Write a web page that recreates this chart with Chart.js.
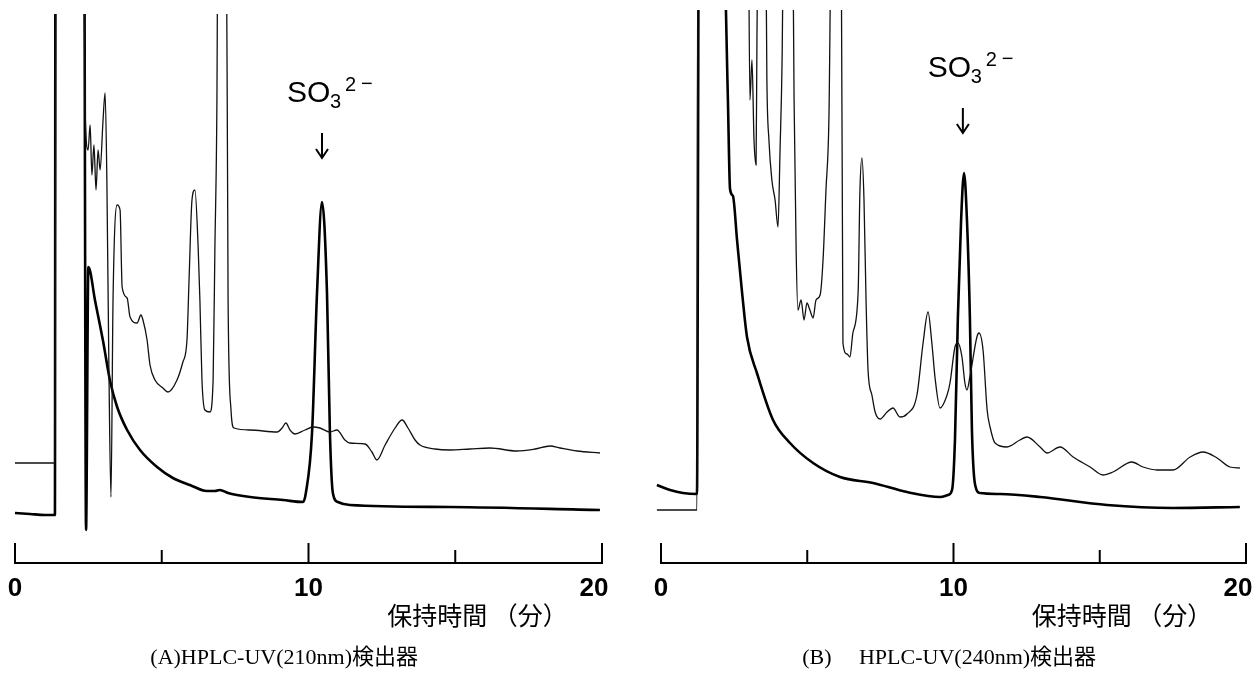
<!DOCTYPE html>
<html><head><meta charset="utf-8">
<script src="https://cdn.jsdelivr.net/npm/chart.js@4"></script>
<style>
html,body{margin:0;padding:0;background:#fff;}
#wrap{position:relative;width:1258px;height:673px;overflow:hidden;}
.pane{position:absolute;top:0;width:629px;height:673px;}
</style></head><body>
<div id="wrap">
<div class="pane" style="left:0"><canvas id="cA" width="629" height="673"></canvas></div>
<div class="pane" style="left:629px"><canvas id="cB" width="629" height="673"></canvas></div>
</div>
<script>
// ---- axis ticks / labels ----
const majorTicks = [0, 10, 20];
const minorTicks = [5, 15];
const tickLabels = ['0', '10', '20'];
const xTitle = '保持時間 （分）';
const captionA = '(A)HPLC-UV(210nm)検出器';
const captionB = '(B)\u3000 HPLC-UV(240nm)検出器';

// ---- Panel A (210 nm): retention time (min) / signal (arb.) ----
const A_solid_t = [0,0.51,1.02,1.36,1.38,2.35,2.42,2.50,2.73,3.00,3.24,3.48,3.82,4.26,4.84,5.38,5.96,6.54,6.81,6.98,7.26,7.56,8.01,9.13,9.81,9.91,10.12,10.29,10.46,10.63,10.73,10.83,11.0,11.41,14.82,19.93];
const A_solid_v = [50,49,48,48,700,700,33,296,262,222,182,156,133,113,96,85,78,72,72,73,70,68,66,63,61,70,130,270,361,270,130,70,61,58,56,53];
const A_thin_t = [0,1.36,1.40,2.32,2.39,2.49,2.56,2.62,2.69,2.76,2.83,2.90,3.00,3.07,3.13,3.20,3.27,3.34,3.48,3.58,3.65,3.82,3.92,4.16,4.29,4.36,4.50,4.60,4.77,5.04,5.21,5.52,5.72,5.86,5.93,6.03,6.13,6.24,6.30,6.37,6.47,6.64,6.75,6.81,6.88,6.92,7.19,7.26,7.36,7.46,8.01,8.93,9.10,9.23,9.37,9.54,9.88,10.15,10.39,10.73,10.97,11.24,11.41,11.93,12.16,12.33,12.61,12.95,13.19,13.39,13.63,13.80,14.31,14.82,15.50,16.18,17.10,17.72,18.23,18.57,19.15,19.93];
const A_thin_v = [100,100,700,700,453,413,438,388,418,373,413,393,443,470,383,193,66,263,358,353,276,265,246,240,248,243,223,198,183,175,171,183,201,223,283,363,373,316,263,183,153,151,183,313,463,700,700,263,153,135,133,131,135,140,133,129,133,136,135,131,133,123,120,119,111,103,118,135,143,135,123,118,114,113,114,115,112,114,117,115,112,110];

// ---- Panel B (240 nm) ----
const B_solid_t = [-0.14,0.31,0.75,1.23,1.30,2.15,2.22,2.29,2.36,2.46,2.60,2.77,2.94,3.28,3.83,4.41,5.20,6.12,7.25,8.41,9.54,9.81,9.95,10.05,10.15,10.26,10.36,10.46,10.56,10.63,10.74,10.91,11.59,12.96,15.25,17.50,19.79];
const B_solid_v = [78,73,70,69,700,700,553,460,374,367,323,271,226,190,143,120,100,86,80,71,66,68,73,123,246,343,390,343,246,133,78,70,69,66,58,55,56];
const B_thin_t = [-0.14,1.23,1.26,2.97,3.04,3.11,3.18,3.25,3.28,3.35,3.56,3.62,3.69,3.79,3.90,4.00,4.07,4.14,4.21,4.48,4.55,4.62,4.68,4.79,4.89,4.99,5.09,5.20,5.30,5.44,5.54,5.64,5.74,5.85,6.15,6.22,6.36,6.46,6.56,6.74,6.80,6.87,6.94,7.01,7.08,7.21,7.32,7.49,7.73,7.93,8.17,8.41,8.75,8.96,9.13,9.26,9.37,9.54,9.78,9.88,10.05,10.15,10.29,10.39,10.46,10.56,10.80,10.87,11.01,11.15,11.25,11.42,11.83,12.27,12.51,12.96,13.20,13.64,14.09,14.67,15.11,15.45,16.10,16.48,16.96,17.50,18.09,18.53,19.01,19.45,19.79];
const B_thin_v = [53,53,700,700,463,503,423,398,523,700,700,483,423,383,363,336,413,503,700,700,463,313,253,263,243,260,253,245,263,268,303,373,443,700,700,220,209,206,230,271,371,405,363,263,192,168,151,144,151,155,146,149,168,220,251,220,185,155,168,180,216,220,206,180,173,186,226,230,213,153,136,120,116,123,126,116,110,116,106,96,88,91,101,96,93,93,106,111,105,96,95];

// ---- SO3^2- peak marker (time, signal at arrow tip) ----
const A_marker = [10.46, 405];
const B_marker = [10.32, 430];

function pts(t, v) { return t.map((x, i) => ({ x: x, y: v[i] })); }

const chromPlugin = {
  id: 'chrom',
  afterDraw(chart) {
    const o = chart.options.plugins.chrom;
    const ctx = chart.ctx, xs = chart.scales.x, ys = chart.scales.y;
    const y0 = ys.getPixelForValue(0);
    ctx.save();
    ctx.strokeStyle = '#000'; ctx.fillStyle = '#000'; ctx.lineWidth = 2;
    ctx.beginPath();
    ctx.moveTo(xs.getPixelForValue(0) - 1, y0);
    ctx.lineTo(xs.getPixelForValue(20) + 1, y0);
    ctx.stroke();
    majorTicks.forEach(t => { const x = xs.getPixelForValue(t); ctx.beginPath(); ctx.moveTo(x, y0); ctx.lineTo(x, y0 - 20); ctx.stroke(); });
    minorTicks.forEach(t => { const x = xs.getPixelForValue(t); ctx.beginPath(); ctx.moveTo(x, y0); ctx.lineTo(x, y0 - 13); ctx.stroke(); });
    ctx.font = 'bold 26px "Liberation Sans", Arial, sans-serif';
    ctx.textAlign = 'center'; ctx.textBaseline = 'middle';
    majorTicks.forEach((t, i) => {
      let x = xs.getPixelForValue(t);
      const w = ctx.measureText(tickLabels[i]).width;
      if (i === majorTicks.length - 1) x -= 8;
      x = Math.min(x, chart.width - w / 2 - 5);
      ctx.fillText(tickLabels[i], x, y0 + 26);
    });
    ctx.font = '25px "Noto Sans CJK JP", sans-serif';
    ctx.fillText(xTitle, xs.getPixelForValue(15.76), y0 + 52);
    ctx.font = '22px "Liberation Serif", "Noto Sans CJK JP", serif';
    ctx.fillText(o.caption, xs.getPixelForValue(o.captionX), y0 + 95);
    // marker
    const mx = xs.getPixelForValue(o.marker[0]);
    const my = ys.getPixelForValue(o.marker[1]);
    ctx.lineWidth = 2;
    ctx.beginPath(); ctx.moveTo(mx, my - 25); ctx.lineTo(mx, my); ctx.stroke();
    ctx.beginPath(); ctx.moveTo(mx - 6, my - 9); ctx.lineTo(mx, my); ctx.lineTo(mx + 6, my - 9); ctx.stroke();
    const base = my - 56;
    ctx.textAlign = 'left'; ctx.textBaseline = 'alphabetic';
    ctx.font = '30px "Liberation Sans", Arial, sans-serif';
    ctx.fillText('SO', mx - 35, base);
    ctx.font = '20px "Liberation Sans", Arial, sans-serif';
    ctx.fillText('3', mx + 8, base + 6);
    ctx.fillText('2', mx + 23, base - 11);
    ctx.fillText('\u2212', mx + 39, base - 12);
    ctx.restore();
  }
};

function makeChart(id, solidT, solidV, thinT, thinV, padL, padR, padT, ymax, caption, captionX, marker) {
  return new Chart(document.getElementById(id), {
    type: 'line',
    data: {
      datasets: [
        { data: pts(thinT, thinV), borderColor: '#111', borderWidth: 1.3, pointRadius: 0, cubicInterpolationMode: 'monotone', borderJoinStyle: 'round' },
        { data: pts(solidT, solidV), borderColor: '#000', borderWidth: 2.6, pointRadius: 0, cubicInterpolationMode: 'monotone', borderJoinStyle: 'round' }
      ]
    },
    options: {
      responsive: false, animation: false, events: [],
      layout: { padding: { left: padL, right: padR, top: padT, bottom: 110 } },
      scales: {
        x: { type: 'linear', min: -0.2, max: 20, display: false },
        y: { type: 'linear', min: 0, max: ymax, display: false }
      },
      plugins: { legend: { display: false }, tooltip: { enabled: false },
        chrom: { caption: caption, captionX: captionX, marker: marker } }
    },
    plugins: [chromPlugin]
  });
}

makeChart('cA', A_solid_t, A_solid_v, A_thin_t, A_thin_v, 9.13, 27, 14, 549, captionA, 9.17, A_marker);
makeChart('cB', B_solid_t, B_solid_v, B_thin_t, B_thin_v, 26.15, 12, 10, 553, captionB, 9.85, B_marker);
</script>
</body></html>
